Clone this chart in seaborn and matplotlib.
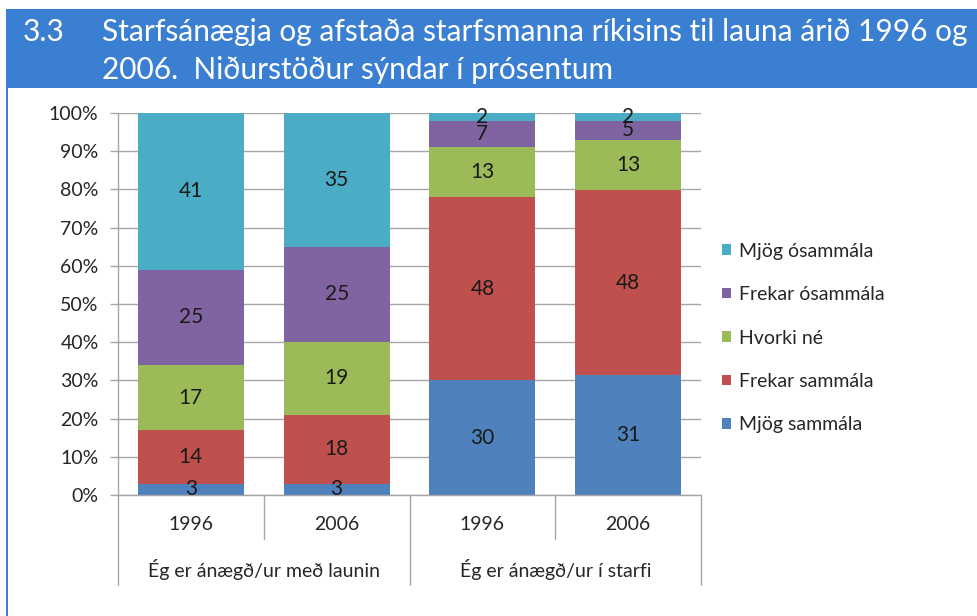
import numpy as np
import seaborn as sns
import matplotlib.pyplot as plt
from matplotlib.patches import Patch, Rectangle

# data
bar_ids = ["launin_1996", "launin_2006", "starfi_1996", "starfi_2006"]
years = ["1996", "2006", "1996", "2006"]
groups = ["Ég er ánægð/ur með launin", "Ég er ánægð/ur í starfi"]
categories = ["Mjög sammála", "Frekar sammála", "Hvorki né", "Frekar ósammála", "Mjög ósammála"]
mjog_sammala = [3, 3, 30, 31]
frekar_sammala = [14, 18, 48, 48]
hvorki_ne = [17, 19, 13, 13]
frekar_osammala = [25, 25, 7, 5]
mjog_osammala = [41, 35, 2, 2]
colors = ["#4f81bd", "#c0504d", "#9bbb59", "#8064a2", "#4bacc6"]

title_num = "3.3"
title_lines = ["Starfsánægja og afstaða starfsmanna ríkisins til launa árið 1996 og",
               "2006.  Niðurstöður sýndar í prósentum"]

sns.set_theme(style="white")
plt.rcParams["font.family"] = ["Lato", "DejaVu Sans"]

W, H = 978, 616
fig = plt.figure(figsize=(W / 100, H / 100), dpi=100)
ax = fig.add_axes([118 / W, 1 - 495 / H, 583 / W, 382 / H])

# 100% stacked: normalise every bar to its total
values = np.array([mjog_sammala, frekar_sammala, hvorki_ne, frekar_osammala, mjog_osammala], dtype=float)
pct = values / values.sum(axis=0) * 100
cum = pct.cumsum(axis=0)

# draw tallest cumulative layer first, smaller ones on top
for k in reversed(range(len(categories))):
    sns.barplot(x=bar_ids, y=cum[k], order=bar_ids, color=colors[k], saturation=1,
                width=0.727, errorbar=None, linewidth=0, ax=ax)

txt_c = "#262626"
fs = 14

# value labels centred in each segment
for k in range(len(categories)):
    for i in range(len(bar_ids)):
        mid = cum[k, i] - pct[k, i] / 2
        ax.text(i, mid, f"{int(values[k, i])}", ha="center", va="center",
                fontsize=15, color="#1a1a1a")

grid_c = "#a6a6a6"
ax.set_xlim(-0.5, 3.5)
ax.set_ylim(0, 100)
ax.set_yticks(np.arange(0, 101, 10))
ax.set_yticklabels([f"{t}%" for t in range(0, 101, 10)])
ax.yaxis.grid(True, color=grid_c, lw=1)
ax.set_axisbelow(True)
ax.set_xlabel("")
ax.set_ylabel("")
ax.set_xticks([])
ax.tick_params(axis="y", length=6, width=1, color=grid_c, labelsize=fs,
               labelcolor=txt_c, pad=8, left=True)
for s in ["top", "right"]:
    ax.spines[s].set_visible(False)
for s in ["left", "bottom"]:
    ax.spines[s].set_color(grid_c)
    ax.spines[s].set_linewidth(1)

# two level category axis
xt = ax.get_xaxis_transform()
for x in [0.5, 2.5]:
    ax.plot([x, x], [0, -0.115], transform=xt, color=grid_c, lw=1, clip_on=False)
for x in [-0.5, 1.5, 3.5]:
    ax.plot([x, x], [0, -0.236], transform=xt, color=grid_c, lw=1, clip_on=False)
for i, y in enumerate(years):
    ax.text(i, -0.0785, y, transform=xt, ha="center", va="center", fontsize=fs, color=txt_c)
for j, g in enumerate(groups):
    ax.text(0.5 + 2 * j, -0.196, g, transform=xt, ha="center", va="center", fontsize=fs, color=txt_c)

# legend, top entry first
handles = [Patch(facecolor=colors[k], edgecolor="none", label=categories[k])
           for k in reversed(range(len(categories)))]
fig.legend(handles=handles, loc="center left", bbox_to_anchor=(712 / W, 1 - 338 / H),
           frameon=False, fontsize=fs, labelspacing=1.36, handlelength=0.47,
           handleheight=0.47, handletextpad=0.4, borderpad=0, labelcolor=txt_c)

# title banner
blue = "#3a7fd1"
fig.patches.append(Rectangle((6 / W, 1 - 88 / H), 1, 79 / H, transform=fig.transFigure,
                             facecolor=blue, edgecolor="none", zorder=0))
fig.patches.append(Rectangle((6 / W, 0), 2 / W, 1 - 88 / H, transform=fig.transFigure,
                             facecolor=blue, edgecolor="none", zorder=0))
fig.text(23 / W, 1 - 41 / H, title_num, va="baseline", ha="left", fontsize=21.5, color="white")
fig.text(102 / W, 1 - 41 / H, title_lines[0], va="baseline", ha="left", fontsize=21.5, color="white")
fig.text(102 / W, 1 - 79 / H, title_lines[1], va="baseline", ha="left", fontsize=21.5, color="white")

fig.savefig("out.png", dpi=100)
